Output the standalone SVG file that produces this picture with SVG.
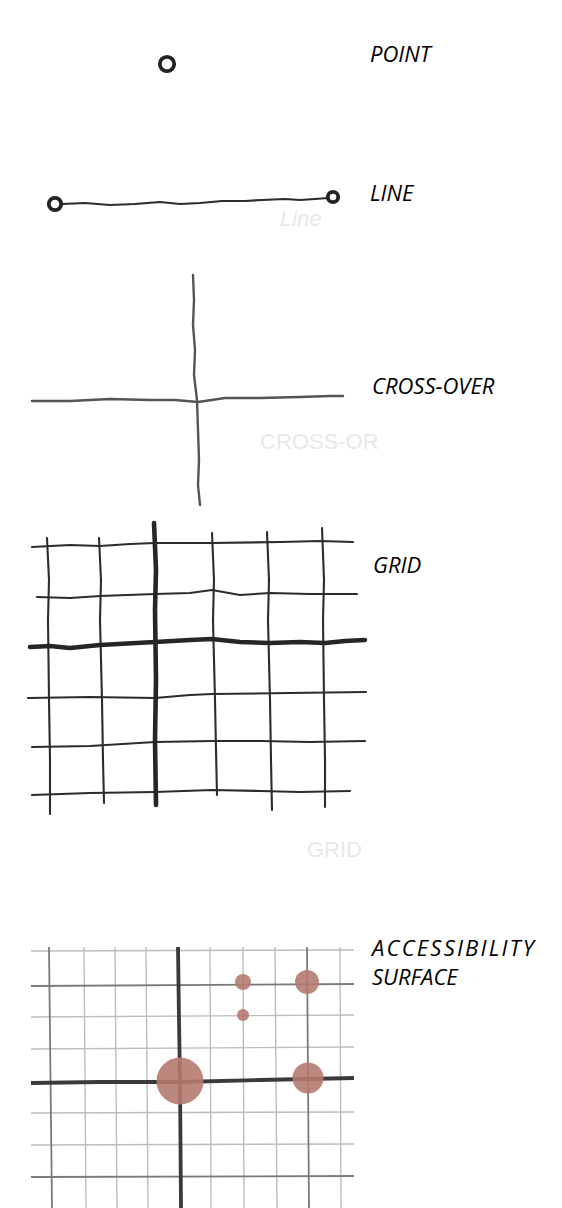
<svg xmlns="http://www.w3.org/2000/svg" width="562" height="1208" viewBox="0 0 562 1208">
<style>
.lbl{font-family:"Open Sans","Noto Sans","Liberation Sans",sans-serif;font-style:italic;font-size:22px;fill:#000}
.ghost{font-family:"Liberation Sans",sans-serif;font-size:22px;fill:#e8e8e8}
.ink{fill:none;stroke:#2c2c2c;stroke-linecap:round;stroke-linejoin:round}
.pen{fill:none;stroke:#555;stroke-width:2.4;stroke-linecap:round;stroke-linejoin:round}
.thin{stroke-width:2.1}
.thick{stroke-width:4.6;stroke:#262626}
.ring{fill:#fff;stroke:#222;stroke-width:3.8}
.lg{fill:none;stroke:#bdbdbd;stroke-width:1.4}
.mg{fill:none;stroke:#7a7a7a;stroke-width:1.8}
.hg{fill:none;stroke:#3a3a3a;stroke-width:3.8;stroke-linejoin:round}
.dot{fill:#b57b70}
</style>
<rect width="562" height="1208" fill="#fff"/>

<g id="point">
<circle class="ring" cx="167" cy="64" r="7.2"/>
<text class="lbl" x="370" y="62">POINT</text>
</g>

<g id="line">
<path class="ink" stroke="#333" stroke-width="2.2" d="M62,204 L85,203 L110,205 L135,204 L160,202 L180,204 L200,203 L222,201 L245,201 L262,200 L285,199 L300,200 L315,199 L328,198"/>
<circle class="ring" cx="55" cy="204" r="6.2"/>
<circle class="ring" cx="333" cy="197" r="5.2"/>
<text class="ghost" x="280" y="226" font-size="14" font-style="italic">Line</text>
<text class="lbl" x="370" y="201">LINE</text>
</g>

<g id="crossover">
<path class="pen" d="M193,275 L194,300 L193,325 L195,350 L194,375 L197,400 L198,430 L199,460 L198,485 L200,505"/>
<path class="pen" stroke-width="2.8" d="M32,401 L70,401 L110,399 L150,400 L175,400 L198,402 L225,398 L260,398 L300,397 L330,396 L343,396"/>
<text class="ghost" x="260" y="449" font-size="21">CROSS-OR</text>
<text class="lbl" x="372" y="394">CROSS-OVER</text>
</g>

<g id="grid">
<g class="ink thin">
<path d="M32,547 L70,545 L100,546 L130,544 L155,543 L212,543 L280,542 L320,541 L353,542"/>
<path d="M37,597 L70,598 L100,596 L155,594 L190,593 L212,590 L240,595 L270,593 L310,594 L357,594"/>
<path d="M28,698 L90,697 L155,698 L190,695 L212,694 L290,693 L366,692"/>
<path d="M32,747 L90,746 L155,742 L212,741 L260,741 L310,742 L365,741"/>
<path d="M32,795 L90,793 L155,792 L212,790 L260,791 L300,792 L350,791"/>
<path d="M47,538 L49,580 L48,620 L49,700 L50,760 L50,814"/>
<path d="M99,538 L101,580 L100,620 L102,700 L103,760 L104,803"/>
<path d="M212,533 L214,580 L213,620 L215,700 L216,750 L217,795"/>
<path d="M267,532 L269,580 L268,620 L270,700 L271,760 L272,810"/>
<path d="M322,528 L324,580 L323,620 L324,700 L325,760 L325,807"/>
</g>
<g class="ink thick">
<path d="M30,647 L50,646 L70,648 L100,645 L155,642 L190,640 L212,639 L240,642 L270,643 L300,642 L325,643 L345,641 L365,640"/>
<path d="M154,523 L156,570 L155,610 L156,680 L155,740 L156,805"/>
</g>
<text class="ghost" x="307" y="857" font-size="26">GRID</text>
<text class="lbl" x="373" y="573">GRID</text>
</g>

<g id="accessibility-surface">
<path class="lg" d="M31,951 L354,950"/>
<g class="lg">
<path d="M84,947 L86,1208"/>
<path d="M115,947 L117,1208"/>
<path d="M146,947 L148,1208"/>
<path d="M210,947 L211,1208"/>
<path d="M243,947 L244,1208"/>
<path d="M275,947 L277,1208"/>
<path d="M340,947 L341,1208"/>
<path d="M31,1017 L354,1015"/>
<path d="M31,1049 L354,1047"/>
<path d="M31,1113 L354,1112"/>
<path d="M31,1145 L354,1144"/>
</g>
<g class="mg">
<path d="M49,947 L52,1208"/>
<path d="M307,947 L309,1208"/>
<path d="M31,986 L354,984"/>
<path d="M31,1177 L354,1176"/>
</g>
<g class="hg">
<path d="M178,947 L179,1020 L180,1081 L181,1208"/>
<path d="M31,1083 L100,1082 L180,1082 L260,1080 L354,1078"/>
</g>
<g opacity="0.9">
<circle class="dot" cx="180" cy="1081" r="23.5"/>
<circle class="dot" cx="308" cy="1078" r="15.5"/>
<circle class="dot" cx="307" cy="982" r="12"/>
<circle class="dot" cx="243" cy="982" r="8"/>
<circle class="dot" cx="243" cy="1015" r="6"/>
</g>
<text class="lbl" x="372" y="956" letter-spacing="2.2">ACCESSIBILITY</text>
<text class="lbl" x="372" y="985">SURFACE</text>
</g>
</svg>
